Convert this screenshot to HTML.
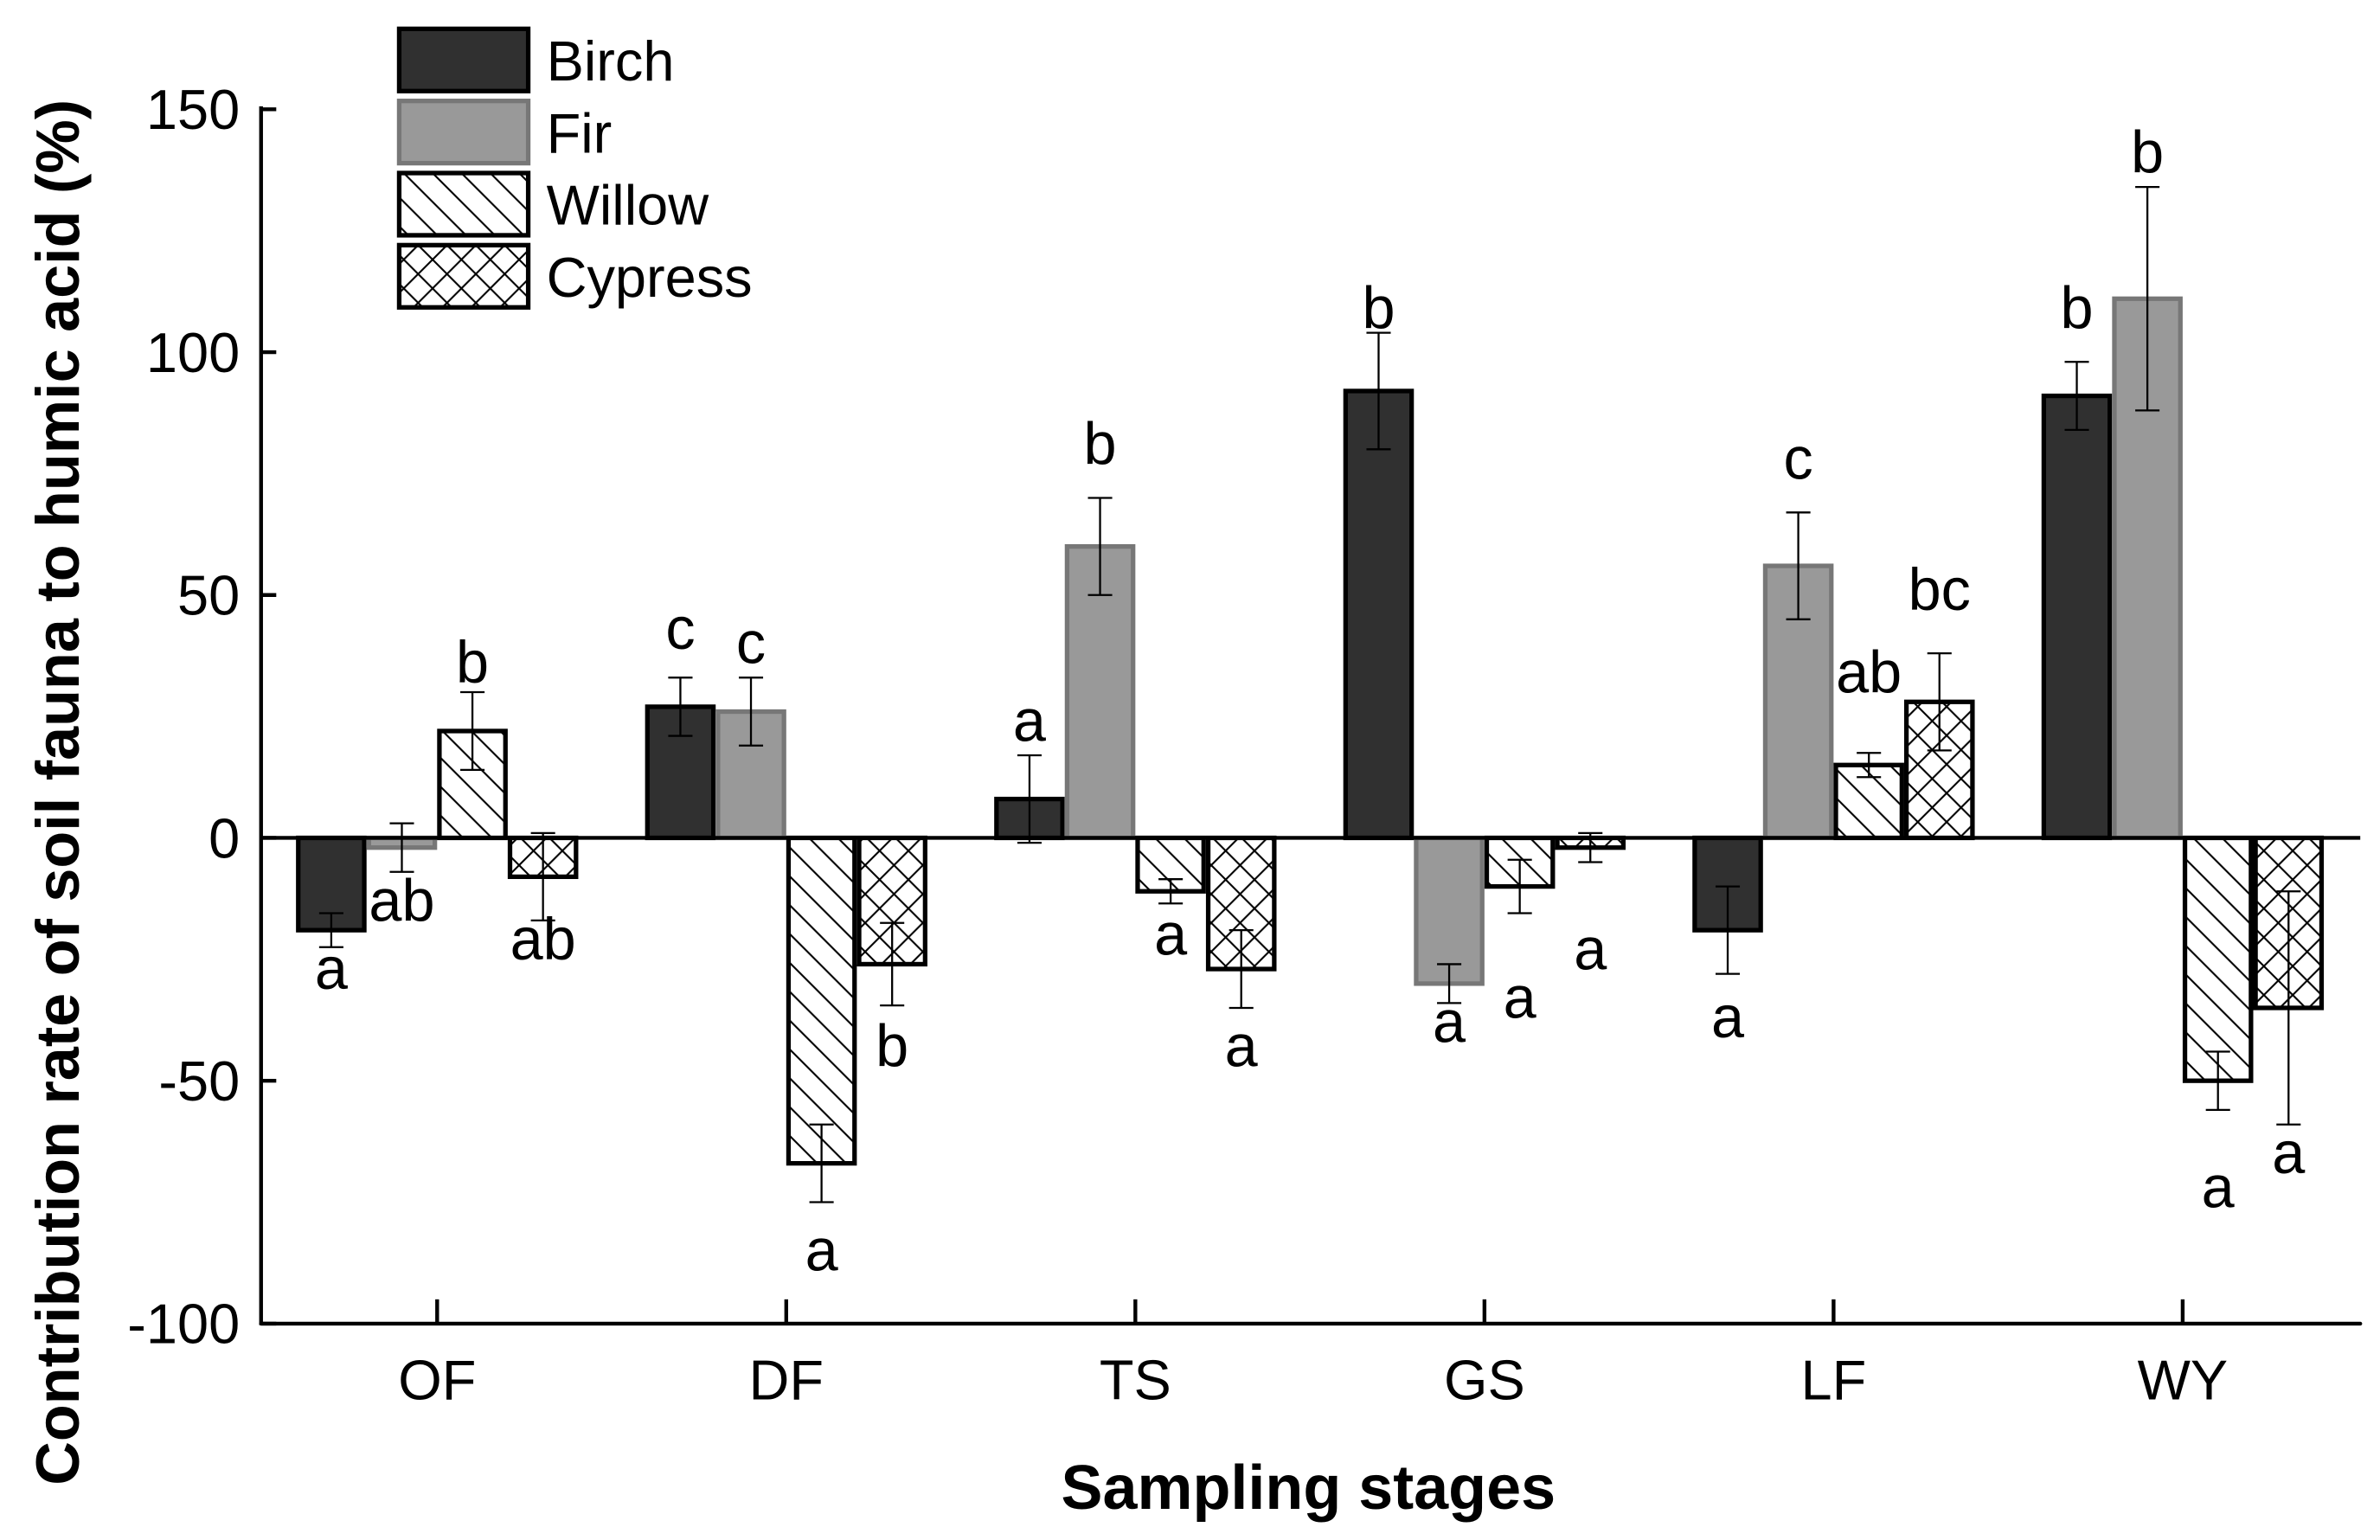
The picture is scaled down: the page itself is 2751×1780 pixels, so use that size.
<!DOCTYPE html>
<html><head><meta charset="utf-8"><style>
html,body{margin:0;padding:0;background:#fff;}
svg{display:block;font-family:"Liberation Sans",Arial,sans-serif;}
</style></head><body>
<svg id="chart" width="2751" height="1780" viewBox="0 0 1568 1014.55" xmlns="http://www.w3.org/2000/svg">
<defs>
<pattern id="diag" patternUnits="userSpaceOnUse" width="19" height="19">
<path d="M-5,-5 L24,24 M-5,14 L5,24 M14,-5 L24,5" stroke="#000" stroke-width="1.2"/>
</pattern>
<pattern id="cross" patternUnits="userSpaceOnUse" width="19" height="19">
<path d="M-5,-5 L24,24 M-5,14 L5,24 M14,-5 L24,5 M24,-5 L-5,24 M24,14 L14,24 M5,-5 L-5,5" stroke="#000" stroke-width="1.2"/>
</pattern>
</defs>
<g id="plot"></g>
</svg>
<script>
const categories = ["OF","DF","TS","GS","LF","WY"];
const seriesNames = ["Birch","Fir","Willow","Cypress"];
const birch = [-19, 27, 8, 92, -19, 91];
const fir = [-2, 26, 60, -30, 56, 111];
const willow = [22, -67, -11, -10, 15, -50];
const cypress = [-8, -26, -27, -2, 28, -35];
const birchErr = [3.5, 6, 9, 12, 9, 7];
const firErr = [5, 7, 10, 4, 11, 23];
const willowErr = [8, 8, 2.5, 5.5, 2.5, 6];
const cypressErr = [9, 8.5, 8, 3, 10, 24];
const birchLetters = ["a","c","a","b","a","b"];
const firLetters = ["ab","c","b","a","c","b"];
const willowLetters = ["b","a","a","a","ab","a"];
const cypressLetters = ["ab","b","a","a","bc","a"];
const birchLetterY = [-27, 43, 24, 109, -37, 109];
const firLetterY = [-13, 40, 81, -38, 78, 141];
const willowLetterY = [36, -85, -20, -33, 34, -72];
const cypressLetterY = [-21, -43, -43, -23, 51, -65];
const yTicks = [-100, -50, 0, 50, 100, 150];

const NS = "http://www.w3.org/2000/svg";
const g = document.getElementById("plot");
const x0 = 172, x1 = 1555, yBase = 552;
const yS = v => yBase - v * 3.2;
const xC = i => 288 + i * 230;
const barW = 46.5;
function el(t, a, txt){const e=document.createElementNS(NS,t);for(const k in a)e.setAttribute(k,a[k]);if(txt!==undefined)e.textContent=txt;g.appendChild(e);return e;}

const styles = [
 {fill:"#303030", stroke:"#000"},
 {fill:"#999999", stroke:"#777"},
 {fill:"url(#diag)", stroke:"#000"},
 {fill:"url(#cross)", stroke:"#000"}];
const vals=[birch,fir,willow,cypress], errs=[birchErr,firErr,willowErr,cypressErr];
const lets=[birchLetters,firLetters,willowLetters,cypressLetters], letY=[birchLetterY,firLetterY,willowLetterY,cypressLetterY];

categories.forEach((c,i)=>{
  for(let s=0;s<4;s++){
    const v=vals[s][i], bx=xC(i)-2*barW+s*barW;
    const top=Math.min(yS(v),yBase), h=Math.abs(yS(v)-yBase);
    el("rect",{x:bx,y:top,width:barW,height:h,fill:"#fff",stroke:"none"});
    const b=el("rect",{x:bx+1.5,y:top,width:barW-3,height:h,fill:styles[s].fill,stroke:styles[s].stroke,"stroke-width":3});
    
    
    const cx=bx+barW/2, e=errs[s][i];
    const eb=el("path",{d:`M${cx},${yS(v+e)}V${yS(v-e)}M${cx-8},${yS(v+e)}h16M${cx-8},${yS(v-e)}h16`,stroke:"#000","stroke-width":1.3,fill:"none"});
    
    
    const t=el("text",{x:cx,y:yS(letY[s][i])+13,"font-size":39,"text-anchor":"middle"},lets[s][i]);
    
    
  }
});
const za=el("line",{x1:x0,y1:yBase,x2:x1,y2:yBase,stroke:"#000","stroke-width":2.5});


const xa=el("line",{x1:x0,y1:yS(-100),x2:x1,y2:yS(-100),stroke:"#000","stroke-width":2.5,"stroke-linecap":"round"});


const ya=el("line",{x1:x0,y1:yS(150)-2,x2:x0,y2:yS(-100)+1,stroke:"#000","stroke-width":2.5});


yTicks.forEach(v=>{
  const tk=el("line",{x1:x0,y1:yS(v),x2:x0+10,y2:yS(v),stroke:"#000","stroke-width":2.5});
  
  
  const t=el("text",{x:x0-14,y:yS(v)+13,"font-size":37,"text-anchor":"end"},String(v));
  
  
});
categories.forEach((c,i)=>{
  const tk=el("line",{x1:xC(i),y1:yS(-100),x2:xC(i),y2:yS(-100)-16,stroke:"#000","stroke-width":2.5});
  
  
  const t=el("text",{x:xC(i),y:922,"font-size":37,"text-anchor":"middle"},c);
  
  
});
const xt=el("text",{x:862,y:994,"font-size":41,"font-weight":"bold","text-anchor":"middle"},"Sampling stages");


const yt=el("text",{x:0,y:0,"font-size":40,"font-weight":"bold","text-anchor":"middle",transform:"translate(52,522) rotate(-90)"},"Contribution rate of soil fauna to humic acid (%)");


seriesNames.forEach((n,s)=>{
  const y=19+s*47.5;
  el("rect",{x:263,y:y,width:85,height:41,fill:"#fff"});
  const r=el("rect",{x:263,y:y,width:85,height:41,fill:styles[s].fill,stroke:styles[s].stroke,"stroke-width":3});
  
  
  const t=el("text",{x:360,y:y+34,"font-size":37},n);
  
  
});
</script>
</body></html>
